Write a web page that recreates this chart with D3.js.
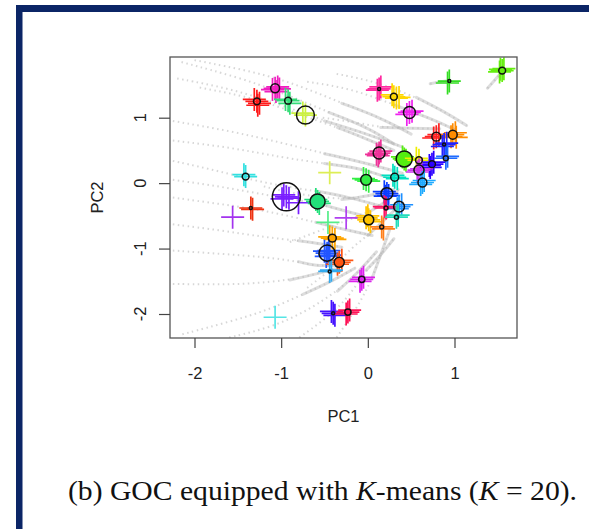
<!DOCTYPE html>
<meta charset="utf-8">
<style>
body { margin: 0; background: #fff; }
svg { display: block; }
.tick text, .lab { font-family: "Liberation Sans", Arial, sans-serif; font-size: 16.5px; fill: #222; }
.cap { font-family: "Liberation Serif", "DejaVu Serif", serif; font-size: 28px; fill: #111; }
</style>
<svg width="589" height="529"></svg>
<script src="https://d3js.org/d3.v7.min.js"></script>
<script>

// cluster centres (PC1, PC2), weight, colour
var clusterX = [-1.28,-1.07,-0.92,-0.72,0.13,0.30,0.48,0.94,1.55,0.79,0.98,0.88,0.90,0.13,0.42,0.59,0.74,0.59,0.31,0.63,-0.02,-0.44,-1.41,-0.94,-0.58,-1.35,-1.56,0.22,0.36,0.21,0.33,0.01,0.16,-0.25,-0.46,-0.41,-0.47,-0.33,-0.44,-0.07,-0.40,-0.23,-1.07];
var clusterY = [1.25,1.45,1.26,1.04,1.44,1.32,1.08,1.56,1.72,0.71,0.74,0.59,0.38,0.46,0.37,0.35,0.29,0.20,0.09,0.01,0.05,0.16,0.10,-0.21,-0.28,-0.38,-0.52,-0.16,-0.36,-0.38,-0.52,-0.56,-0.67,-0.53,-0.60,-0.84,-1.07,-1.21,-1.35,-1.47,-1.99,-1.97,-2.05];
var clusterWeight = [6,10,6,41,1,6,18,1,6,10,10,1,3,18,33,6,6,13,8,10,15,0,6,100,29,1,0,18,15,2,2,13,2,0,0,8,33,13,1,5,1,5,0];
var clusterColour = ["#ff1a1a","#f01fc0","#33dd77","#ccf040","#ff2aa0","#ffd700","#ee22ee","#33dd22","#66ee11","#ff2222","#ff8c00","#2222ff","#1e6bff","#ee3399","#55ee11","#eeee00","#2a00ff","#cc33ee","#00e0c0","#1eaaff","#33ee44","#ddee55","#33e0e0","#7a1fff","#22e07a","#ee3311","#a333ee","#0a3cff","#1e90ff","#ff1464","#22ddbb","#ffc400","#ff7f1a","#b040f0","#55ee88","#ffa500","#2255ff","#ff5511","#33aaee","#dd22ee","#4411ff","#ff1155","#55e5e5"];
var clusterFilled = [11,15,21,25,32,36,38];

// members: [cluster number, PC1, PC2]
var members = [
  [1,-1.28,1.25],[1,-1.25,1.22],[1,-1.31,1.28],[1,-1.27,1.19],
  [2,-1.07,1.45],[2,-1.04,1.47],[2,-1.10,1.43],[2,-1.06,1.40],[2,-1.02,1.44],
  [3,-0.92,1.26],[3,-0.90,1.22],[3,-0.95,1.28],
  [4,-0.72,1.04],[4,-0.75,1.07],
  [5,0.13,1.44],[5,0.11,1.42],[5,0.15,1.47],
  [6,0.30,1.32],[6,0.33,1.30],[6,0.28,1.35],[6,0.36,1.31],
  [7,0.48,1.08],[7,0.45,1.05],[7,0.51,1.10],
  [8,0.94,1.56],[8,0.92,1.53],
  [9,1.55,1.72],[9,1.52,1.70],[9,1.57,1.75],[9,1.53,1.74],
  [10,0.79,0.71],[10,0.76,0.69],[10,0.82,0.74],
  [11,0.98,0.74],[11,1.01,0.77],[11,0.96,0.71],[11,1.02,0.70],
  [12,0.88,0.59],[12,0.86,0.56],[12,0.91,0.61],
  [13,0.90,0.38],[13,0.92,0.41],
  [14,0.13,0.46],[14,0.10,0.44],[14,0.15,0.49],[14,0.12,0.42],
  [15,0.42,0.37],[15,0.40,0.40],[15,0.44,0.35],
  [16,0.59,0.35],[16,0.56,0.38],
  [17,0.74,0.29],[17,0.71,0.27],[17,0.76,0.32],[17,0.72,0.24],
  [18,0.59,0.20],[18,0.57,0.17],[18,0.62,0.22],
  [19,0.31,0.09],[19,0.29,0.12],[19,0.34,0.07],
  [20,0.63,0.01],[20,0.61,-0.02],[20,0.65,0.04],
  [21,-0.02,0.05],[21,-0.05,0.07],[21,0.01,0.03],
  [22,-0.44,0.16],
  [23,-1.41,0.10],[23,-1.43,0.13],
  [24,-0.94,-0.21],[24,-0.97,-0.18],[24,-0.91,-0.23],[24,-0.99,-0.24],[24,-0.80,-0.30],
  [25,-0.58,-0.28],[25,-0.60,-0.25],[25,-0.56,-0.31],
  [26,-1.35,-0.38],[26,-1.33,-0.40],
  [27,-1.56,-0.52],
  [28,0.22,-0.16],[28,0.19,-0.13],[28,0.24,-0.19],[28,0.20,-0.20],
  [29,0.36,-0.36],[29,0.39,-0.33],[29,0.34,-0.39],
  [30,0.21,-0.38],[30,0.19,-0.36],
  [31,0.33,-0.52],[31,0.35,-0.49],
  [32,0.01,-0.56],[32,-0.02,-0.53],[32,0.03,-0.59],[32,0.00,-0.50],
  [33,0.16,-0.67],[33,0.18,-0.70],
  [34,-0.25,-0.53],
  [35,-0.46,-0.60],
  [36,-0.41,-0.84],[36,-0.44,-0.82],[36,-0.38,-0.86],
  [37,-0.47,-1.07],[37,-0.50,-1.04],[37,-0.44,-1.10],[37,-0.48,-1.12],[37,-0.45,-1.03],
  [38,-0.33,-1.21],[38,-0.30,-1.18],[38,-0.35,-1.24],
  [39,-0.44,-1.35],[39,-0.42,-1.33],
  [40,-0.07,-1.47],[40,-0.05,-1.44],[40,-0.09,-1.50],
  [41,-0.40,-1.99],[41,-0.42,-1.96],[41,-0.38,-2.02],
  [42,-0.23,-1.97],[42,-0.21,-1.94],[42,-0.25,-2.00],
  [43,-1.07,-2.05]
];

// grey trajectories in the background
var trajectories = [
  [[-2.15,1.85],[-1.5,1.62],[-0.98,1.38],[-0.45,1.08],[-0.01,0.86],[0.3,0.6]],
  [[-2.0,1.88],[-1.3,1.7],[-0.8,1.5],[-0.3,1.22],[0.15,1.0],[0.5,0.75]],
  [[-1.94,1.46],[-1.3,1.3],[-0.79,1.05],[-0.35,0.85],[-0.06,0.70],[0.3,0.5]],
  [[-2.2,1.6],[-1.6,1.45],[-1.0,1.2],[-0.5,0.95],[0.0,0.75],[0.4,0.55]],
  [[-0.36,1.67],[0.1,1.55],[0.56,1.31],[0.9,1.08],[1.14,0.88]],
  [[-0.7,1.55],[-0.2,1.45],[0.3,1.2],[0.7,1.0],[1.0,0.82]],
  [[-0.52,1.0],[-0.1,0.92],[0.15,0.85],[0.5,0.84],[0.83,0.83]],
  [[-2.25,0.65],[-1.6,0.55],[-0.98,0.39],[-0.5,0.3],[-0.13,0.24],[0.2,0.1]],
  [[-2.25,0.95],[-1.6,0.8],[-1.0,0.62],[-0.5,0.45],[0.0,0.3],[0.4,0.15]],
  [[-2.25,0.34],[-1.7,0.18],[-1.17,-0.01],[-0.6,-0.12],[-0.2,-0.22],[0.15,-0.35]],
  [[-2.25,0.05],[-1.7,-0.05],[-1.1,-0.2],[-0.6,-0.3],[-0.2,-0.45],[0.1,-0.55]],
  [[-2.25,-0.22],[-1.7,-0.32],[-1.17,-0.42],[-0.6,-0.6],[-0.2,-0.73],[0.05,-0.8]],
  [[-2.25,-0.63],[-1.7,-0.72],[-1.17,-0.83],[-0.8,-0.88],[-0.52,-0.93],[-0.3,-0.98]],
  [[-2.25,-1.03],[-1.7,-1.08],[-1.17,-1.13],[-0.8,-1.2],[-0.6,-1.27],[-0.35,-1.25]],
  [[-2.25,-1.54],[-1.8,-1.55],[-1.36,-1.54],[-0.9,-1.48],[-0.6,-1.39],[-0.35,-1.3]],
  [[-2.14,-2.31],[-1.6,-2.12],[-1.17,-1.95],[-0.75,-1.7],[-0.4,-1.49],[-0.15,-1.3]],
  [[-1.6,-2.36],[-1.1,-2.2],[-0.7,-1.95],[-0.35,-1.65],[-0.1,-1.35],[0.1,-1.05]],
  [[-0.79,-2.36],[-0.36,-1.95],[-0.15,-1.6],[-0.02,-1.33],[0.15,-1.1],[0.3,-0.85]],
  [[-0.36,-2.36],[-0.2,-2.05],[-0.06,-1.75],[0.05,-1.45],[0.14,-1.13],[0.25,-0.72]],
  [[-0.9,-0.9],[-0.6,-0.75],[-0.3,-0.6],[0.0,-0.45],[0.2,-0.3],[0.35,-0.1]],
  [[-0.7,-1.6],[-0.4,-1.3],[-0.2,-1.0],[0.0,-0.8],[0.2,-0.55],[0.4,-0.3]],
  [[-1.2,-0.05],[-0.9,-0.15],[-0.6,-0.2],[-0.3,-0.25],[0.0,-0.2],[0.3,-0.1]],
  [[1.38,1.45],[1.45,1.55],[1.52,1.66]],
  [[0.72,1.52],[0.8,1.54],[0.9,1.56]]
];

var xTicks = [-2, -1, 0, 1];
var yTicks = [-2, -1, 0, 1];

var svg = d3.select("svg");
var box = {left: 170, right: 517, top: 57, bottom: 338};

// frame of the page
svg.append("rect").attr("x", 16).attr("y", 5).attr("width", 573).attr("height", 7).attr("fill", "#0b2566");
svg.append("rect").attr("x", 16).attr("y", 5).attr("width", 6.5).attr("height", 524).attr("fill", "#0b2566");

var x = d3.scaleLinear().domain([-2, 1]).range([194.5, 454.5]);
var y = d3.scaleLinear().domain([-2, 1]).range([314, 117.7]);
var rad = d3.scaleSqrt().domain([0, 100]).range([0, 14]);

svg.append("clipPath").attr("id", "clip")
  .append("rect").attr("x", box.left).attr("y", box.top)
  .attr("width", box.right - box.left).attr("height", box.bottom - box.top);

var plot = svg.append("g").attr("clip-path", "url(#clip)");

var line = d3.line().x(function(d){ return x(d[0]); }).y(function(d){ return y(d[1]); }).curve(d3.curveBasis);

plot.selectAll(".traj").data(trajectories).enter().append("path")
  .attr("d", line)
  .attr("fill", "none")
  .attr("stroke", "#c6c6c6")
  .attr("stroke-width", 2)
  .attr("stroke-dasharray", "1.5,3.5")
  .attr("opacity", 0.7);

plot.selectAll(".tail").data(trajectories).enter().append("path")
  .attr("d", function(d){ return line(d.slice(-3)); })
  .attr("fill", "none")
  .attr("stroke", "#b4b4b4")
  .attr("stroke-width", 3)
  .attr("stroke-linecap", "round")
  .attr("opacity", 0.45);

var centres = d3.range(clusterX.length).filter(function(i){ return clusterWeight[i] > 0; });

// filled centres sit under the crosses
plot.selectAll(".fillc").data(centres.filter(function(i){ return clusterFilled.indexOf(i + 1) >= 0; }))
  .enter().append("circle")
  .attr("cx", function(i){ return x(clusterX[i]); })
  .attr("cy", function(i){ return y(clusterY[i]); })
  .attr("r", function(i){ return rad(clusterWeight[i]); })
  .attr("fill", function(i){ return clusterColour[i]; });

var arm = 11.5;
plot.selectAll(".cross").data(members).enter().append("path")
  .attr("d", function(d){
    var cx = x(d[1]), cy = y(d[2]);
    return "M" + (cx - arm) + "," + cy + "H" + (cx + arm) + "M" + cx + "," + (cy - arm) + "V" + (cy + arm);
  })
  .attr("stroke", function(d){ return clusterColour[d[0] - 1]; })
  .attr("stroke-width", 1.7)
  .attr("fill", "none");

plot.selectAll(".centre").data(centres)
  .enter().append("circle")
  .attr("cx", function(i){ return x(clusterX[i]); })
  .attr("cy", function(i){ return y(clusterY[i]); })
  .attr("r", function(i){ return Math.max(1.5, rad(clusterWeight[i])); })
  .attr("fill", "none")
  .attr("stroke", "#111")
  .attr("stroke-width", 1.5);

svg.append("rect").attr("x", box.left).attr("y", box.top)
  .attr("width", box.right - box.left).attr("height", box.bottom - box.top)
  .attr("fill", "none").attr("stroke", "#555").attr("stroke-width", 1.3);

var gx = svg.append("g").attr("transform", "translate(0," + box.bottom + ")")
  .call(d3.axisBottom(x).tickValues(xTicks).tickSize(10).tickSizeOuter(0).tickPadding(19).tickFormat(d3.format("d")));
gx.select(".domain").remove();
gx.selectAll(".tick line").attr("stroke", "#444").attr("stroke-width", 1.2);
gx.selectAll(".tick text").text(function(d){ return d < 0 ? "-" + Math.abs(d) : d; });

var gy = svg.append("g").attr("transform", "translate(" + box.left + ",0)")
  .call(d3.axisLeft(y).tickValues(yTicks).tickSize(11).tickSizeOuter(0).tickFormat(""));
gy.select(".domain").remove();
gy.selectAll(".tick line").attr("stroke", "#444").attr("stroke-width", 1.2);

svg.selectAll(".ylab").data(yTicks).enter().append("text")
  .attr("class", "lab")
  .attr("text-anchor", "middle")
  .attr("transform", function(d){ return "translate(146," + y(d) + ") rotate(-90)"; })
  .text(function(d){ return d < 0 ? "-" + Math.abs(d) : d; });

svg.append("text").attr("class", "lab").attr("text-anchor", "middle")
  .attr("x", (box.left + box.right) / 2).attr("y", 422).text("PC1");
svg.append("text").attr("class", "lab").attr("text-anchor", "middle")
  .attr("transform", "translate(103," + (box.top + box.bottom) / 2 + ") rotate(-90)").text("PC2");

var cap = svg.append("text").attr("class", "cap").attr("x", 68).attr("y", 500)
  .attr("textLength", 509).attr("lengthAdjust", "spacingAndGlyphs");
cap.append("tspan").text("(b) GOC equipped with ");
cap.append("tspan").attr("font-style", "italic").text("K");
cap.append("tspan").text("-means (");
cap.append("tspan").attr("font-style", "italic").text("K");
cap.append("tspan").text(" = 20).");

</script>
